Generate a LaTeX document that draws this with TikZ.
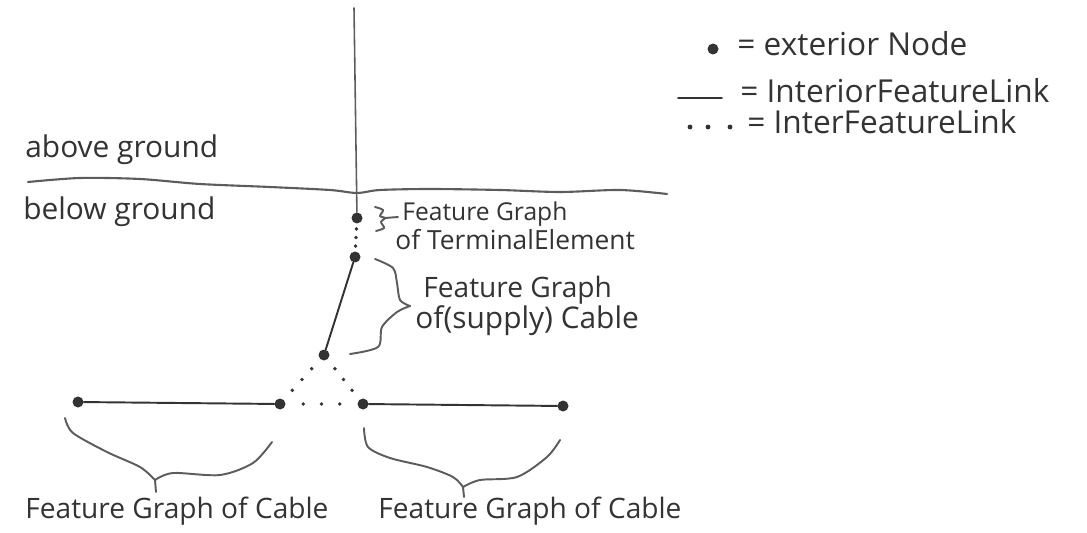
\documentclass[tikz,border=0pt]{standalone}
\usepackage{fontspec}
\setmainfont{Open Sans}
\usetikzlibrary{calc}
\definecolor{sk-ink}{HTML}{333333}
\definecolor{sk-pencil}{HTML}{5C5C5C}

\tikzset{
    extnode/.style={circle, fill=sk-ink, inner sep=0pt, minimum size=0.22cm},
    hand/.style={font=\fontsize{#1}{#1}\selectfont, text=sk-ink, inner sep=0pt, anchor=base west},
    hand/.default=16,
    interior/.style={sk-ink, line width=1.1pt},
    brace/.style={sk-pencil, line width=1.1pt},
}

\begin{document}
\begin{tikzpicture}[x=0.02cm, y=-0.02cm, line cap=round]
    \useasboundingbox (0,0) rectangle (1087,533);

    % Ground line
    \draw[sk-pencil, line width=1.2pt] plot[smooth] coordinates
        {(28,182) (80,178) (140,179) (200,184) (270,187) (330,190) (357,193)
         (380,190) (430,189) (500,190) (560,192) (620,190) (667,194)};
    \node[hand=17] (above) at (25,158) {above ground};
    \node[hand=17] (below) at (23,220) {below ground};

    % Exterior nodes
    \node[extnode] (term)   at (357,218) {};
    \node[extnode] (ctop)   at (355,257) {};
    \node[extnode] (cbot)   at (324,355) {};
    \node[extnode] (lleft)  at (78,402)  {};
    \node[extnode] (lright) at (280,404) {};
    \node[extnode] (rleft)  at (363,404) {};
    \node[extnode] (rright) at (563,406) {};

    % Pole above ground
    \coordinate (poletop) at (354,8);
    \draw[sk-pencil, line width=0.9pt] (poletop) -- (term);

    % Interior feature links
    \draw[interior] (ctop) -- (cbot);
    \draw[interior] (lleft) -- (lright);
    \draw[interior] (rleft) -- (rright);

    % Inter feature links
    \foreach \a/\b in {term/ctop, cbot/lright, cbot/rleft, lright/rleft} {
        \foreach \t in {0.28,0.5,0.72} {
            \fill[sk-ink] ($(\a)!\t!(\b)$) circle (1.1pt);
        }
    }

    % Terminal element
    \draw[brace] plot[smooth] coordinates
        {(375,207) (383,210) (380,216) (385,218) (381,222) (384,228) (376,231)};
    \draw[brace] (385,218) -- (398,217);
    \node[hand=14] (termlbl) at (402,221) {Feature Graph};
    \node[hand=15] (termlbl2) at (395,250) {of TerminalElement};

    % Supply cable
    \draw[brace] plot[smooth] coordinates
        {(375,259) (393,268) (397,283) (400,300) (410,306)};
    \draw[brace] plot[smooth] coordinates
        {(410,306) (397,312) (382,327) (378,347) (350,354)};
    \node[hand=16] (supplylbl) at (423,297) {Feature Graph};
    \node[hand=17] (supplylbl2) at (415,328) {of(supply) Cable};

    % Cables below
    \draw[brace] plot[smooth] coordinates
        {(65,418) (73,433) (107,452) (140,467) (155,480)};
    \draw[brace] plot[smooth] coordinates
        {(155,480) (173,473) (220,475) (253,463) (272,442)};
    \draw[brace] (155,480) -- (156,492);
    \node[hand] (leftlbl) at (25,518) {Feature Graph of Cable};

    \draw[brace] plot[smooth] coordinates
        {(364,428) (368,447) (390,458) (427,467) (453,477) (463,487)};
    \draw[brace] plot[smooth] coordinates
        {(463,487) (480,480) (517,477) (547,457) (560,440)};
    \draw[brace] (463,487) -- (464,497);
    \node[hand] (rightlbl) at (378,518) {Feature Graph of Cable};

    % Key
    \node[extnode] (keynode) at (713,49) {};
    \node[hand=18] (keynodelbl) at (737,56) {= exterior Node};
    \coordinate (keya) at (678,98);
    \coordinate (keyb) at (722,98);
    \draw[interior] (keya) -- (keyb);
    \node[hand=18] (keylinelbl) at (740,103) {= InteriorFeatureLink};
    \foreach \x in {690,708,730} {
        \fill[sk-ink] (\x,127) circle (1.4pt);
    }
    \node[hand=18] (keydotlbl) at (747,134) {= InterFeatureLink};
\end{tikzpicture}
\end{document}
